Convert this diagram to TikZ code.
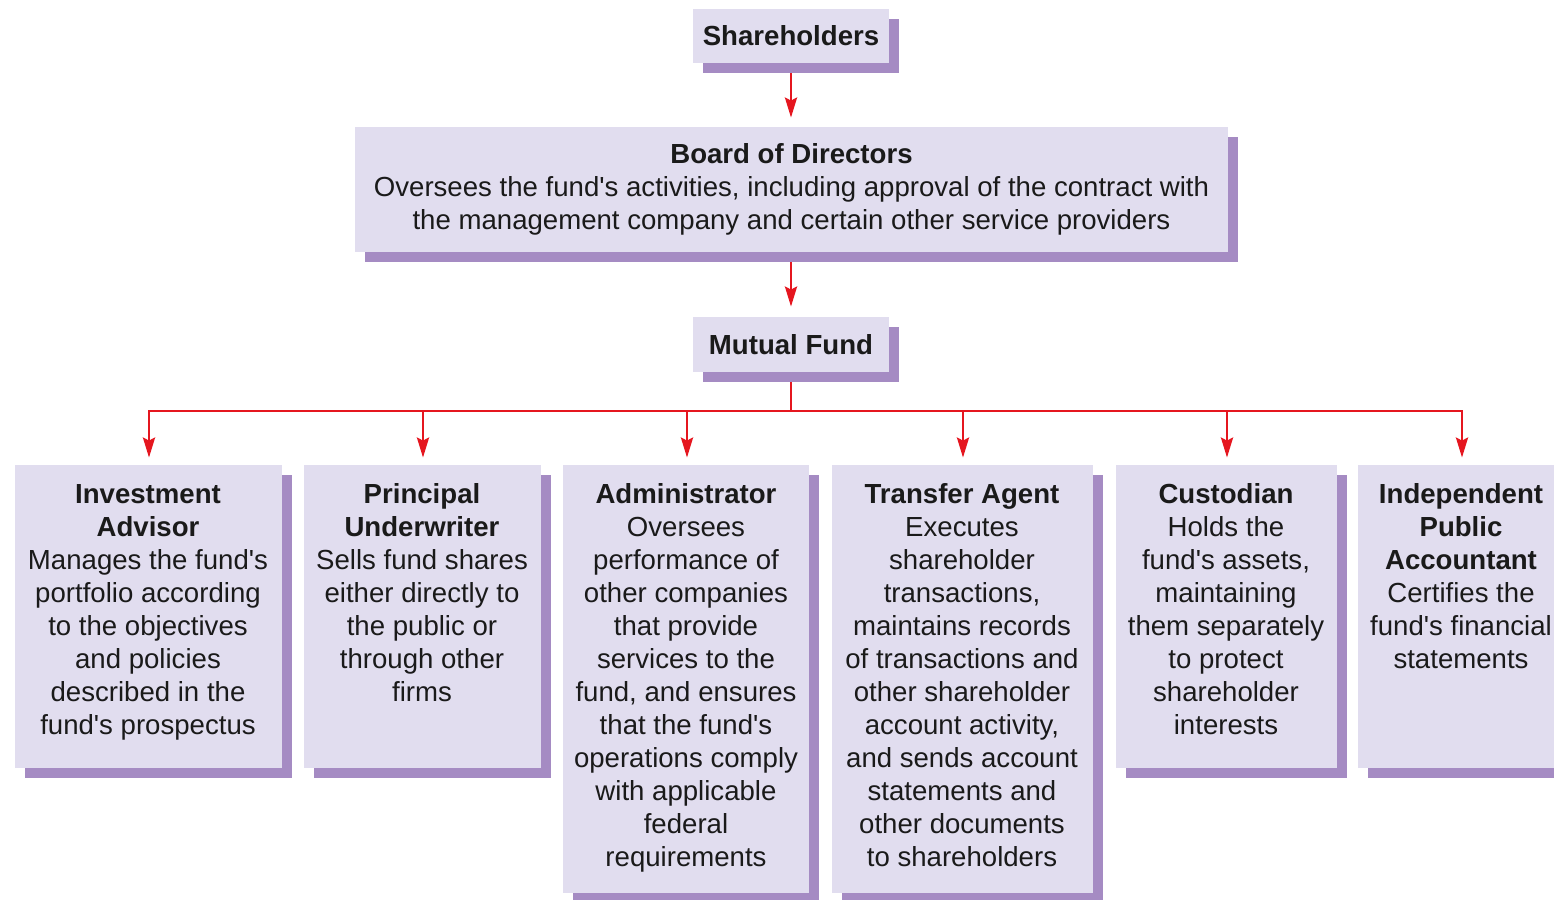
\documentclass[tikz,border=0pt]{standalone}
\usepackage{fontspec}
\setmainfont{Liberation Sans}
\usetikzlibrary{arrows.meta,shadows}
\definecolor{boxfill}{HTML}{E1DDEF}
\definecolor{boxshade}{HTML}{A58BC3}
\definecolor{linkred}{HTML}{E5161F}
\definecolor{ink}{HTML}{1A1A1A}
\newcommand{\apos}{\textquotesingle}
\begin{document}
\begin{tikzpicture}[x=0.5pt,y=-0.5pt,
    box/.style={fill=boxfill, draw=none, inner sep=0pt,
      drop shadow={shadow xshift=5pt, shadow yshift=-5pt, fill=boxshade, opacity=1}},
    words/.style={text=ink, align=center, font=\fontsize{13.8}{16.5}\selectfont},
    txt/.style={words, anchor=north, inner sep=0pt},
    link/.style={draw=linkred, line width=1.45pt},
    tip/.style={-{Stealth[length=10pt,width=6pt,inset=1.5pt]}}]
      \useasboundingbox (0,0) rectangle (1554,900);
      % top of the chart
      \node[box, words, minimum width=98pt, minimum height=27pt] (share) at (791,36)
        {\textbf{Shareholders}};
      \node[box, words, minimum width=436.5pt, minimum height=62.5pt] (board) at (791.5,189.5)
        {\textbf{Board of Directors}\\
         Oversees the fund\apos s activities, including approval of the contract with\\
         the management company and certain other service providers};
      \node[box, words, minimum width=98pt, minimum height=27.5pt] (fund) at (791,344.5)
        {\textbf{Mutual Fund}};
      % service providers
      \node[box, minimum width=133.5pt, minimum height=151.5pt] (advisor) at (148,616.5) {};
      \node[box, minimum width=118.5pt, minimum height=151.5pt] (underwriter) at (422,616.5) {};
      \node[box, minimum width=123pt, minimum height=214pt] (admin) at (686,679) {};
      \node[box, minimum width=130.5pt, minimum height=214pt] (transfer) at (962,679) {};
      \node[box, minimum width=110.5pt, minimum height=151.5pt] (custodian) at (1226,616.5) {};
      \node[box, minimum width=103pt, minimum height=151.5pt] (accountant) at (1461,616.5) {};
      \node[txt] (advisortext) at ([yshift=-10pt]advisor.north)
        {\textbf{Investment}\\ \textbf{Advisor}\\ Manages the fund\apos s\\ portfolio according\\
         to the objectives\\ and policies\\ described in the\\ fund\apos s prospectus};
      \node[txt] (underwritertext) at ([yshift=-9pt]underwriter.north)
        {\textbf{Principal}\\ \textbf{Underwriter}\\ Sells fund shares\\ either directly to\\
         the public or\\ through other\\ firms};
      \node[txt] (admintext) at ([yshift=-9pt]admin.north)
        {\textbf{Administrator}\\ Oversees\\ performance of\\ other companies\\ that provide\\
         services to the\\ fund, and ensures\\ that the fund\apos s\\ operations comply\\
         with applicable\\ federal\\ requirements};
      \node[txt] (transfertext) at ([yshift=-9pt]transfer.north)
        {\textbf{Transfer Agent}\\ Executes\\ shareholder\\ transactions,\\ maintains records\\
         of transactions and\\ other shareholder\\ account activity,\\ and sends account\\
         statements and\\ other documents\\ to shareholders};
      \node[txt] (custodiantext) at ([yshift=-9pt]custodian.north)
        {\textbf{Custodian}\\ Holds the\\ fund\apos s assets,\\ maintaining\\ them separately\\
         to protect\\ shareholder\\ interests};
      \node[txt] (accountanttext) at ([yshift=-9pt]accountant.north)
        {\textbf{Independent}\\ \textbf{Public}\\ \textbf{Accountant}\\ Certifies the\\
         fund\apos s financial\\ statements};
      \coordinate (bus) at (791,411);
      \begin{scope}[link]
        \draw[tip, shorten >=4.5pt] ([yshift=-5pt]share.south) to (board.north -| share.south);
        \draw[tip, shorten >=5pt] ([yshift=-5pt]board.south -| share.south) to (fund.north);
        \draw ([yshift=-5pt]fund.south) to (bus);
        \foreach \n in {advisor,underwriter,admin,transfer,custodian,accountant}
          \draw[tip, shorten >=3.5pt] (bus) -| ([xshift=0.5pt]\n.north);
      \end{scope}
\end{tikzpicture}
\end{document}
